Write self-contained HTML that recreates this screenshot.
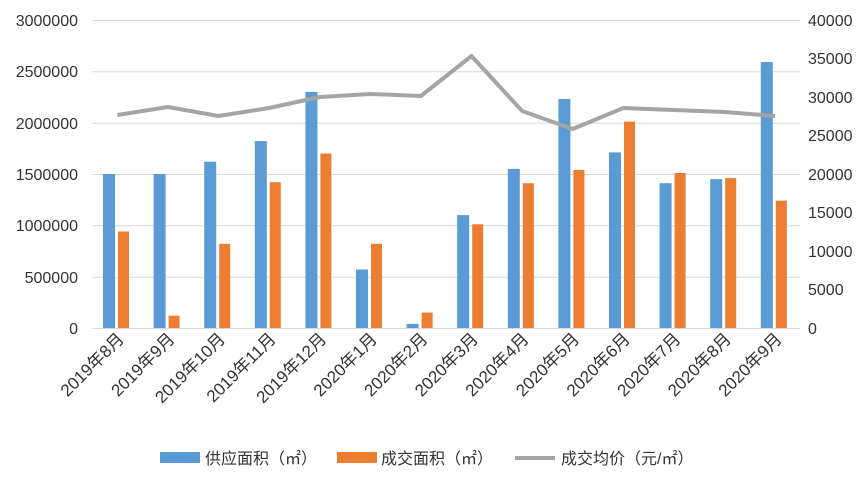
<!DOCTYPE html>
<html><head><meta charset="utf-8"><style>
body{margin:0;background:#fff}
svg{display:block}
text{font-family:"Liberation Sans","Noto Sans CJK SC",sans-serif;fill:#333}
</style></head><body>
<svg width="868" height="478" xmlns="http://www.w3.org/2000/svg">
<g stroke="#d9d9d9" stroke-width="1">
<line x1="92" x2="800" y1="20.5" y2="20.5"/><line x1="92" x2="800" y1="71.8" y2="71.8"/>
<line x1="92" x2="800" y1="123.2" y2="123.2"/><line x1="92" x2="800" y1="174.5" y2="174.5"/>
<line x1="92" x2="800" y1="225.8" y2="225.8"/><line x1="92" x2="800" y1="277.2" y2="277.2"/>
<line x1="92" x2="800" y1="328.5" y2="328.5"/>
</g>
<g font-size="16" text-anchor="end">
<text x="78" y="26">3000000</text><text x="78" y="77">2500000</text><text x="78" y="129">2000000</text>
<text x="78" y="180">1500000</text><text x="78" y="231">1000000</text><text x="78" y="283">500000</text><text x="78" y="334">0</text>
</g>
<g font-size="16" text-anchor="start">
<text x="808" y="26">40000</text><text x="808" y="64">35000</text><text x="808" y="103">30000</text>
<text x="808" y="141">25000</text><text x="808" y="180">20000</text><text x="808" y="218">15000</text>
<text x="808" y="257">10000</text><text x="808" y="295">5000</text><text x="808" y="334">0</text>
</g>
<g fill="#5b9bd5">
<rect x="103" y="174" width="12" height="154"/>
<rect x="153.6" y="174" width="12" height="154"/>
<rect x="204.2" y="161.7" width="12" height="166.3"/>
<rect x="254.8" y="141.1" width="12" height="186.9"/>
<rect x="305.4" y="91.9" width="12" height="236.1"/>
<rect x="356" y="269.5" width="12" height="58.5"/>
<rect x="406.6" y="323.9" width="12" height="4.1"/>
<rect x="457.2" y="215.1" width="12" height="112.9"/>
<rect x="507.8" y="168.9" width="12" height="159.1"/>
<rect x="558.4" y="99" width="12" height="229"/>
<rect x="609" y="152.4" width="12" height="175.6"/>
<rect x="659.6" y="183.2" width="12" height="144.8"/>
<rect x="710.2" y="179.1" width="12" height="148.9"/>
<rect x="760.8" y="62.1" width="12" height="265.9"/>
</g>
<g fill="#ed7d31">
<rect x="118" y="231.5" width="11" height="96.5"/>
<rect x="168.6" y="315.7" width="11" height="12.3"/>
<rect x="219.2" y="243.8" width="11" height="84.2"/>
<rect x="269.8" y="182.2" width="11" height="145.8"/>
<rect x="320.4" y="153.5" width="11" height="174.5"/>
<rect x="371" y="243.8" width="11" height="84.2"/>
<rect x="421.6" y="312.6" width="11" height="15.4"/>
<rect x="472.2" y="224.3" width="11" height="103.7"/>
<rect x="522.8" y="183.2" width="11" height="144.8"/>
<rect x="573.4" y="169.9" width="11" height="158.1"/>
<rect x="624" y="121.6" width="11" height="206.4"/>
<rect x="674.6" y="173" width="11" height="155"/>
<rect x="725.2" y="178.1" width="11" height="149.9"/>
<rect x="775.8" y="200.7" width="11" height="127.3"/>
</g>
<polyline points="117.3,115 167.9,107 218.5,116 269.1,108 319.7,97 370.3,94 420.9,96 471.5,56 522.1,111 572.7,129 623.3,108 673.9,110 724.5,112 775.1,116" fill="none" stroke="#a5a5a5" stroke-width="4" stroke-linejoin="round"/>
<g font-size="17" text-anchor="end">
<text transform="translate(125,340) rotate(-45)">2019年8月</text>
<text transform="translate(175.6,340) rotate(-45)">2019年9月</text>
<text transform="translate(226.2,340) rotate(-45)">2019年10月</text>
<text transform="translate(276.8,340) rotate(-45)">2019年11月</text>
<text transform="translate(327.4,340) rotate(-45)">2019年12月</text>
<text transform="translate(378,340) rotate(-45)">2020年1月</text>
<text transform="translate(428.6,340) rotate(-45)">2020年2月</text>
<text transform="translate(479.2,340) rotate(-45)">2020年3月</text>
<text transform="translate(529.8,340) rotate(-45)">2020年4月</text>
<text transform="translate(580.4,340) rotate(-45)">2020年5月</text>
<text transform="translate(631,340) rotate(-45)">2020年6月</text>
<text transform="translate(681.6,340) rotate(-45)">2020年7月</text>
<text transform="translate(732.2,340) rotate(-45)">2020年8月</text>
<text transform="translate(782.8,340) rotate(-45)">2020年9月</text>
</g>
<rect x="160" y="452" width="40" height="11" fill="#5b9bd5"/>
<text x="205" y="464" font-size="16">供应面积（㎡）</text>
<rect x="337" y="452" width="40" height="11" fill="#ed7d31"/>
<text x="381" y="464" font-size="16">成交面积（㎡）</text>
<line x1="515" x2="555" y1="458" y2="458" stroke="#a5a5a5" stroke-width="4"/>
<text x="561" y="464" font-size="16">成交均价（元/㎡）</text>
</svg>
</body></html>
